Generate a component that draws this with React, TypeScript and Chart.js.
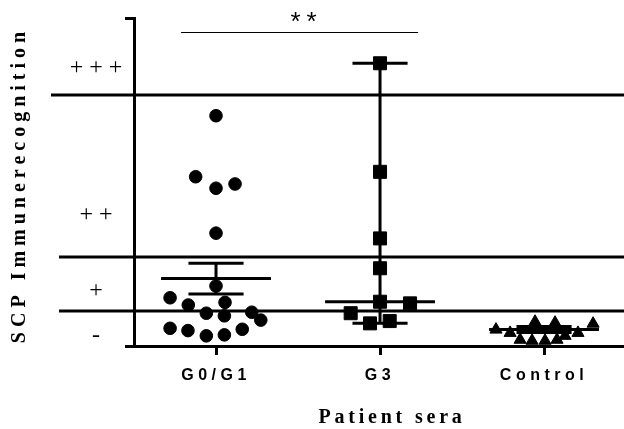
import React, { useEffect, useRef } from 'react';
import { Chart, registerables } from 'chart.js';

Chart.register(...registerables);

// ---------- data ----------
const categories = ['G0/G1', 'G3', 'Control'];

const g0g1Values = [70.2, 51.6, 48.1, 49.4, 34.4, 18.3, 14.7, 12.5, 13.3, 10.0, 9.2, 10.3, 7.9, 5.4, 4.7, 3.1, 3.4, 5.1];
const g0g1Jitter = [0, -0.124, 0, 0.116, 0, 0, -0.28, -0.169, 0.055, -0.059, 0.051, 0.218, 0.273, -0.28, -0.171, -0.059, 0.051, 0.16];

const g3Values = [86.2, 53.1, 32.8, 23.7, 13.5, 13.0, 10.0, 6.9, 7.6];
const g3Jitter = [0, 0, 0, 0, 0, 0.183, -0.179, -0.061, 0.059];

const controlValues = [5.0, 4.0, 7.4, 7.1, 4.0, 6.8, 3.1, 1.9, 1.6, 1.6, 1.9];
const controlJitter = [-0.293, -0.207, -0.055, 0.067, 0.207, 0.299, 0.128, -0.146, -0.073, 0.006, 0.079];

// centre line (mean for G0/G1 and Control, median for G3) and whisker ends
const centerValues = [20.6, 13.5, 5.0];
const whiskerLow = [15.85, 6.9, 4.1];
const whiskerHigh = [25.2, 86.2, 5.95];

// recognition bands
const thresholds = [76.5, 27.1, 10.7];
const bandLabels = ['+ + +', '+ +', '+', '-'];
const bandLabelValues = [84.8, 40.0, 16.8, 3.1];

// significance bracket between G0/G1 and G3
const significanceLabel = '**';
const significanceSpan = [-0.213, 1.232];
const significanceLevel = 95.7;

const yTitle = 'SCP Immunerecognition';
const xTitle = 'Patient sera';

// ---------- helpers ----------
const SERIF = '"Times New Roman", "Liberation Serif", serif';
const SANS = 'Arial, "Liberation Sans", sans-serif';

function withSpacing(scale: any, labelSpacing: string, titleSpacing: string, titleShiftY = 0) {
  if (scale.__spaced) return;
  scale.__spaced = true;
  const drawLabels = scale.drawLabels;
  const drawTitle = scale.drawTitle;
  scale.drawLabels = function (area: any) {
    const c = this.ctx;
    c.save();
    c.letterSpacing = labelSpacing;
    drawLabels.call(this, area);
    c.restore();
  };
  scale.drawTitle = function () {
    const c = this.ctx;
    c.save();
    c.letterSpacing = titleSpacing;
    c.translate(0, titleShiftY);
    drawTitle.call(this);
    c.restore();
  };
}

const annotationPlugin = {
  id: 'dotPlotAnnotations',
  afterDatasetsDraw(chart: any) {
    const { ctx } = chart;
    const x = chart.scales.x;
    const y = chart.scales.y;
    ctx.save();
    ctx.strokeStyle = '#000';
    ctx.lineWidth = 3;
    ctx.lineCap = 'butt';
    categories.forEach((_, i) => {
      const cx = x.getPixelForValue(i);
      const longHalf = x.getPixelForValue(i + 0.335) - cx;
      const capHalf = x.getPixelForValue(i + 0.168) - cx;
      const yc = y.getPixelForValue(centerValues[i]);
      const yl = y.getPixelForValue(whiskerLow[i]);
      const yh = y.getPixelForValue(whiskerHigh[i]);
      ctx.beginPath();
      ctx.moveTo(cx, yh);
      ctx.lineTo(cx, yl);
      ctx.moveTo(cx - capHalf, yh);
      ctx.lineTo(cx + capHalf, yh);
      ctx.moveTo(cx - capHalf, yl);
      ctx.lineTo(cx + capHalf, yl);
      ctx.moveTo(cx - longHalf, yc);
      ctx.lineTo(cx + longHalf, yc);
      ctx.stroke();
    });
    ctx.restore();
  },
  afterDraw(chart: any) {
    const { ctx, chartArea } = chart;
    const x = chart.scales.x;
    const y = chart.scales.y;
    ctx.save();
    ctx.letterSpacing = '0px';
    ctx.strokeStyle = '#000';
    ctx.fillStyle = '#000';

    // threshold lines
    const starts = [-1.006, -0.957, -0.957];
    ctx.lineWidth = 3;
    thresholds.forEach((t, i) => {
      const py = y.getPixelForValue(t);
      ctx.beginPath();
      ctx.moveTo(x.getPixelForValue(starts[i]), py);
      ctx.lineTo(chartArea.right, py);
      ctx.stroke();
    });

    // band labels
    ctx.font = '24px ' + SERIF;
    ctx.textAlign = 'center';
    ctx.textBaseline = 'middle';
    bandLabels.forEach((lab, i) => {
      ctx.fillText(lab, chartArea.left - 38, y.getPixelForValue(bandLabelValues[i]));
    });

    // significance bracket
    const sy = Math.round(y.getPixelForValue(significanceLevel)) + 0.5;
    ctx.lineWidth = 1;
    ctx.beginPath();
    ctx.moveTo(x.getPixelForValue(significanceSpan[0]), sy);
    ctx.lineTo(x.getPixelForValue(significanceSpan[1]), sy);
    ctx.stroke();
    ctx.font = '26px ' + SANS;
    ctx.letterSpacing = '6px';
    ctx.textBaseline = 'alphabetic';
    const mid = (significanceSpan[0] + significanceSpan[1]) / 2;
    ctx.fillText(significanceLabel, x.getPixelForValue(mid) + 7, sy - 3);
    ctx.restore();
  },
};

function makeData(values: number[], jitter: number[], group: number) {
  return values.map((v, i) => ({ x: group + jitter[i], y: v }));
}

export default function App() {
  const ref = useRef<HTMLCanvasElement | null>(null);

  useEffect(() => {
    if (!ref.current) return;
    const gridOpts = {
      drawOnChartArea: false,
      drawTicks: true,
      tickLength: 9,
      tickWidth: 3,
      tickColor: '#000',
    };
    const chart = new Chart(ref.current, {
      type: 'scatter',
      data: {
        datasets: [
          {
            label: categories[0],
            data: makeData(g0g1Values, g0g1Jitter, 0),
            pointStyle: 'circle',
            pointRadius: 6.3,
            borderWidth: 1,
            backgroundColor: '#000',
            borderColor: '#000',
          },
          {
            label: categories[1],
            data: makeData(g3Values, g3Jitter, 1),
            pointStyle: 'rect',
            pointRadius: 9.2,
            borderWidth: 1,
            backgroundColor: '#000',
            borderColor: '#000',
          },
          {
            label: categories[2],
            data: makeData(controlValues, controlJitter, 2),
            pointStyle: 'triangle',
            pointRadius: 7,
            borderWidth: 1,
            backgroundColor: '#000',
            borderColor: '#000',
          },
        ],
      },
      options: {
        animation: false,
        responsive: false,
        devicePixelRatio: 1,
        layout: { autoPadding: false, padding: { top: 18, left: 0, right: 0, bottom: 0 } },
        plugins: {
          legend: { display: false },
          tooltip: { enabled: false },
        },
        elements: { point: { hoverRadius: 6 } },
        scales: {
          x: {
            type: 'linear',
            min: -0.5,
            max: 2.646,
            afterBuildTicks: (s: any) => {
              s.ticks = categories.map((_, i) => ({ value: i }));
            },
            afterFit: (s: any) => {
              s.height = 83;
              withSpacing(s, '4.5px', '3.8px');
            },
            ticks: {
              autoSkip: false,
              maxRotation: 0,
              minRotation: 0,
              padding: 11,
              color: '#000',
              font: { family: SANS, size: 16, weight: 'bold' },
              callback: (v: any) => categories[Math.round(Number(v))] ?? '',
            },
            grid: gridOpts,
            border: { display: true, color: '#000', width: 3 },
            title: {
              display: true,
              text: xTitle,
              color: '#000',
              font: { family: SERIF, size: 20, weight: 'bold', lineHeight: 1 },
              padding: { top: 0, bottom: 1 },
            },
          },
          y: {
            type: 'linear',
            min: 0,
            max: 100,
            afterBuildTicks: (s: any) => {
              s.ticks = [{ value: 0 }, { value: 100 }];
            },
            afterFit: (s: any) => {
              s.width = 134;
              withSpacing(s, '0px', '5px', 3);
            },
            ticks: { display: false },
            grid: gridOpts,
            border: { display: true, color: '#000', width: 3 },
            title: {
              display: true,
              text: yTitle,
              color: '#000',
              font: { family: SERIF, size: 20, weight: 'bold', lineHeight: 1 },
              padding: { top: 10, bottom: 0 },
            },
          },
        },
      } as any,
      plugins: [annotationPlugin],
    });
    return () => chart.destroy();
  }, []);

  return (
    <div
      style={{
        position: 'fixed',
        left: 0,
        top: 0,
        width: 624,
        height: 429,
        overflow: 'hidden',
        background: '#fff',
      }}
    >
      <canvas ref={ref} width={650} height={429} style={{ display: 'block', width: 650, height: 429 }} />
    </div>
  );
}
